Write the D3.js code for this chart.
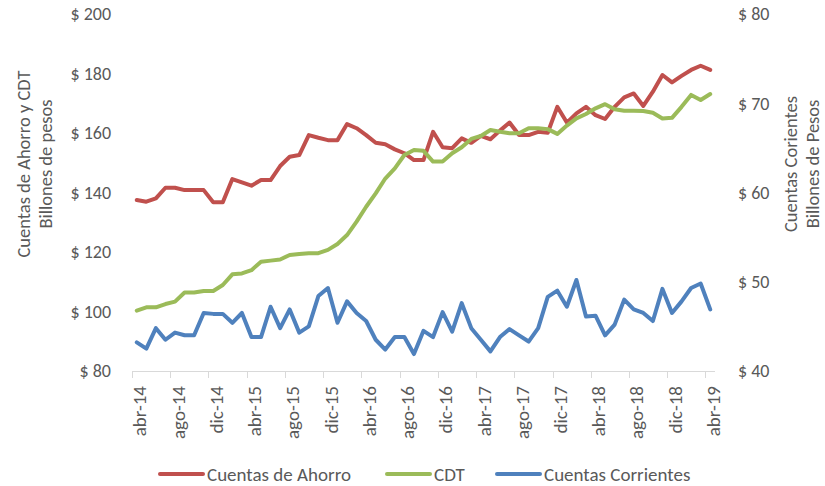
<!DOCTYPE html>
<html>
<head>
<meta charset="utf-8">
<script src="https://cdn.jsdelivr.net/npm/d3@7"></script>
<style>
  body { margin: 0; background: #fff; }
  svg { display: block; font-family: Carlito, Calibri, Lato, sans-serif; }
  text { fill: #595959; }
</style>
</head>
<body>
<svg id="chart" width="825" height="486"></svg>
<script>
// month labels, abr-14 .. abr-19
const monthNames = ["ene","feb","mar","abr","may","jun","jul","ago","sep","oct","nov","dic"];
const categories = [];
for (let k = 0; k < 61; k++) {
  const m = (3 + k) % 12, y = 14 + Math.floor((3 + k) / 12);
  categories.push(monthNames[m] + "-" + y);
}

const ahorro = [
  137.5, 136.9, 138.0, 141.6, 141.6, 140.8, 140.8, 140.8, 136.7, 136.7,
  144.5, 143.4, 142.3, 144.2, 144.2, 148.9, 152.0, 152.6, 159.3, 158.4,
  157.6, 157.6, 163.0, 161.6, 159.3, 156.7, 156.2, 154.5, 153.2, 150.9,
  150.9, 160.4, 155.2, 154.9, 158.2, 156.7, 159.0, 157.9, 160.8, 163.5,
  159.3, 159.3, 160.4, 160.1, 168.8, 163.5, 166.6, 168.8, 166.0, 164.7,
  168.8, 172.0, 173.3, 169.1, 173.9, 179.5, 177.0, 179.2, 181.2, 182.6,
  181.2
];
const cdt = [
  100.3, 101.4, 101.4, 102.5, 103.3, 106.4, 106.4, 106.9, 106.9, 108.9,
  112.5, 112.8, 113.9, 116.7, 117.1, 117.5, 119.0, 119.3, 119.6, 119.6,
  120.7, 122.7, 125.7, 130.2, 135.2, 139.7, 144.7, 148.1, 152.6, 154.3,
  154.0, 150.4, 150.4, 153.2, 155.2, 158.0, 159.0, 161.0, 160.4, 159.9,
  159.9, 161.6, 161.6, 161.3, 159.7, 162.5, 164.9, 166.4, 168.3, 169.7,
  168.0, 167.5, 167.5, 167.4, 166.8, 164.9, 165.1, 168.8, 172.8, 171.1,
  173.1
];
const corrientes = [
  43.2, 42.5, 44.8, 43.5, 44.3, 44.0, 44.0, 46.5, 46.4, 46.4,
  45.4, 46.5, 43.8, 43.8, 47.2, 44.8, 46.9, 44.3, 45.0, 48.4,
  49.3, 45.4, 47.8, 46.5, 45.6, 43.5, 42.4, 43.8, 43.8, 41.9,
  44.5, 43.8, 46.6, 44.4, 47.6, 44.8, 43.5, 42.2, 43.8, 44.7,
  44.0, 43.3, 44.8, 48.3, 49.0, 47.2, 50.2, 46.1, 46.2, 44.0,
  45.2, 48.0, 46.9, 46.5, 45.6, 49.2, 46.5, 47.8, 49.3, 49.8,
  46.9
];

const leftTicks = [80, 100, 120, 140, 160, 180, 200];
const rightTicks = [40, 50, 60, 70, 80];
const seriesNames = ["Cuentas de Ahorro", "CDT", "Cuentas Corrientes"];
const colors = ["#C0504D", "#9BBB59", "#4F81BD"];

const svg = d3.select("#chart");
const plotLeft = 132, plotRight = 715, plotTop = 14, plotBottom = 371;

const x = d3.scaleBand().domain(categories).range([plotLeft, plotRight]);
const yL = d3.scaleLinear().domain([80, 200]).range([plotBottom, plotTop]);
const yR = d3.scaleLinear().domain([40, 80]).range([plotBottom, plotTop]);
const cx = c => x(c) + x.bandwidth() / 2;

// x axis line and tick marks every 4 months
svg.append("line")
  .attr("x1", plotLeft).attr("x2", plotRight)
  .attr("y1", plotBottom + 0.5).attr("y2", plotBottom + 0.5)
  .attr("stroke", "#d9d9d9").attr("stroke-width", 1);

const labelCats = categories.filter((c, i) => i % 4 === 0);
svg.selectAll(".xtick").data(labelCats).enter().append("line")
  .attr("x1", d => Math.round(x(d)) + 0.5).attr("x2", d => Math.round(x(d)) + 0.5)
  .attr("y1", plotBottom).attr("y2", plotBottom + 7)
  .attr("stroke", "#d9d9d9");

svg.selectAll(".xlab").data(labelCats).enter().append("text")
  .attr("transform", d => "translate(" + (cx(d) + 3) + "," + (plotBottom + 15) + ") rotate(-90)")
  .attr("text-anchor", "end")
  .attr("dy", "0.35em")
  .style("font-size", "19px")
  .text(d => d);

// y tick labels
svg.selectAll(".ylab").data(leftTicks).enter().append("text")
  .attr("x", 111).attr("y", d => yL(d))
  .attr("dy", "0.35em").attr("text-anchor", "end")
  .style("font-size", "18px")
  .text(d => "$ " + d);

svg.selectAll(".rlab").data(rightTicks).enter().append("text")
  .attr("x", 738).attr("y", d => yR(d))
  .attr("dy", "0.35em").attr("text-anchor", "start")
  .style("font-size", "18px")
  .text(d => "$ " + d);

// axis titles (baseline sits on the right after rotation)
const leftTitle = svg.append("text")
  .attr("transform", "translate(30,164) rotate(-90)")
  .attr("text-anchor", "middle")
  .style("font-size", "18.5px");
leftTitle.append("tspan").attr("x", 0).attr("dy", 0).text("Cuentas de Ahorro y CDT");
leftTitle.append("tspan").attr("x", 0).attr("dy", 22).text("Billones de pesos");

const rightTitle = svg.append("text")
  .attr("transform", "translate(797,164) rotate(-90)")
  .attr("text-anchor", "middle")
  .style("font-size", "18.5px");
rightTitle.append("tspan").attr("x", 0).attr("dy", 0).text("Cuentas Corientes");
rightTitle.append("tspan").attr("x", 0).attr("dy", 22).text("Billones de Pesos");

// lines
const lineL = d3.line().x((d, i) => cx(categories[i])).y(d => yL(d));
const lineR = d3.line().x((d, i) => cx(categories[i])).y(d => yR(d));

[[ahorro, lineL, 0], [cdt, lineL, 1], [corrientes, lineR, 2]].forEach(s => {
  svg.append("path")
    .datum(s[0])
    .attr("d", s[1])
    .attr("fill", "none")
    .attr("stroke", colors[s[2]])
    .attr("stroke-width", 4)
    .attr("stroke-linejoin", "round")
    .attr("stroke-linecap", "round");
});

// legend
const legendX = [160, 387, 497];
const lg = svg.selectAll(".leg").data(seriesNames).enter().append("g")
  .attr("transform", (d, i) => "translate(" + legendX[i] + ",474)");
lg.append("line")
  .attr("x1", 0).attr("x2", 43).attr("y1", 0).attr("y2", 0)
  .attr("stroke", (d, i) => colors[i]).attr("stroke-width", 4)
  .attr("stroke-linecap", "round");
lg.append("text")
  .attr("x", 47).attr("dy", "0.35em")
  .style("font-size", "19px")
  .text(d => d);
</script>
</body>
</html>
